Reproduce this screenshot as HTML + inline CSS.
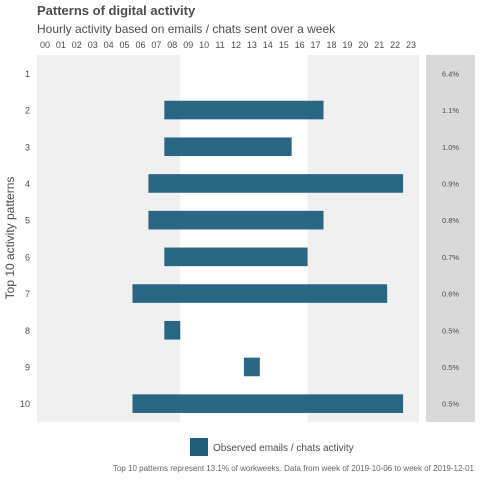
<!DOCTYPE html>
<html><head><meta charset="utf-8"><style>
body{margin:0;background:#fff;font-family:"Liberation Sans",sans-serif}
</style></head><body>
<svg id="c" width="480" height="480" xmlns="http://www.w3.org/2000/svg" font-family="Liberation Sans, sans-serif">
<text x="37" y="15" font-size="13" font-weight="bold" fill="#4d4d4d">Patterns of digital activity</text>
<text x="37" y="33" font-size="12" fill="#4d4d4d">Hourly activity based on emails / chats sent over a week</text>
<g id="plot"></g>
<text transform="translate(14,238) rotate(-90)" text-anchor="middle" font-size="12" fill="#4d4d4d">Top 10 activity patterns</text>
<rect x="190" y="438" width="18" height="18" fill="#1f5f7a"/>
<text x="213" y="451" font-size="10" fill="#4d4d4d">Observed emails / chats activity</text>
<text x="474" y="471" text-anchor="end" font-size="8" fill="#666">Top 10 patterns represent 13.1% of workweeks. Data from week of 2019-10-06 to week of 2019-12-01</text>
</svg>
<script>
const patterns=[1,2,3,4,5,6,7,8,9,10];
const startHour=[null,8,8,7,7,8,6,8,13,6];
const endHour=[null,17,15,22,17,16,21,8,13,22];
const shares=["6.4%","1.1%","1.0%","0.9%","0.8%","0.7%","0.6%","0.5%","0.5%","0.5%"];
const hourLabels=["00","01","02","03","04","05","06","07","08","09","10","11","12","13","14","15","16","17","18","19","20","21","22","23"];
const NS="http://www.w3.org/2000/svg";
const g=document.getElementById('plot');
const x0=37,x1=419,y0=55,y1=422;
const hw=(x1-x0)/24, rh=(y1-y0)/10;
const xs=h=>x0+h*hw;
const yc=i=>y0+(i+0.5)*rh;
function mk(t,a){const e=document.createElementNS(NS,t);for(const k in a)e.setAttribute(k,a[k]);g.appendChild(e);return e;}
let e;
e=mk('rect',{x:x0,y:y0,width:x1-x0,height:y1-y0,fill:'#f0f0f0'});


e=mk('rect',{x:xs(9),y:y0,width:xs(17)-xs(9),height:y1-y0,fill:'#ffffff'});


e=mk('rect',{x:426,y:y0,width:49,height:y1-y0,fill:'#d9d9d9'});


hourLabels.forEach((l,i)=>{
 e=mk('text',{x:xs(i+0.5),y:48,'text-anchor':'middle','font-size':9,fill:'#4d4d4d'});e.textContent=l;
 
 
});
patterns.forEach((p,i)=>{
 e=mk('text',{x:30,y:yc(i)+3.5,'text-anchor':'end','font-size':9,fill:'#4d4d4d'});e.textContent=p;
 
 
 if(startHour[i]!==null){
  e=mk('rect',{x:xs(startHour[i]),y:yc(i)-9.3,width:xs(endHour[i]+1)-xs(startHour[i]),height:18.6,fill:'#175a79','fill-opacity':0.92});
  
  
 }
 e=mk('text',{x:450.5,y:yc(i)+3,'text-anchor':'middle','font-size':7.5,fill:'#4d4d4d'});e.textContent=shares[i];
 
 
});
</script>
</body></html>
